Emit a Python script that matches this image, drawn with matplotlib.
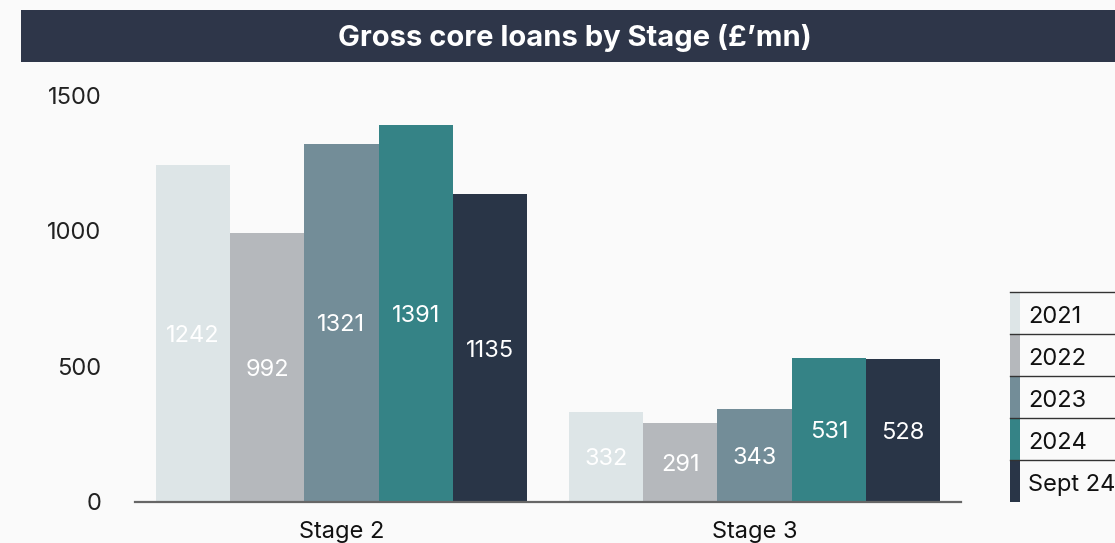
import matplotlib
matplotlib.use("Agg")
import numpy as np
import matplotlib.pyplot as plt
from matplotlib.patches import Rectangle

plt.rcParams["font.family"] = ["Inter", "DejaVu Sans"]

# ---- Data ----
stages = ["Stage 2", "Stage 3"]
periods = ["2021", "2022", "2023", "2024", "Sept 24"]
values = {
    "2021": [1242, 332],
    "2022": [992, 291],
    "2023": [1321, 343],
    "2024": [1391, 531],
    "Sept 24": [1135, 528],
}
colors = ["#DDE5E7", "#B5B8BC", "#738D98", "#358386", "#293547"]
yticks = [0, 500, 1000, 1500]

W, H = 1115, 543
BG = "#FAFAFA"
HEADER = "#2E3649"
FS = 17

fig = plt.figure(figsize=(W / 100, H / 100), dpi=100, facecolor=BG)

# header band with title
fig.patches.append(Rectangle((21 / W, 1 - 62 / H), 1 - 21 / W, 52 / H,
                             transform=fig.transFigure, facecolor=HEADER,
                             edgecolor="none", zorder=0))
fig.text(575 / W, 1 - 38 / H, "Gross core loans by Stage (£’mn)",
         color="white", fontsize=21, fontweight="bold",
         ha="center", va="center")

# ---- Bars ----
ax = fig.add_axes([135 / W, 41 / H, 826 / W, 407 / H])
ax.set_facecolor(BG)
x = np.arange(len(stages))
bw = 0.18
for i, (p, c) in enumerate(zip(periods, colors)):
    xs = x + (i - 2) * bw
    vals = values[p]
    ax.bar(xs, vals, width=bw, color=c, linewidth=0, zorder=2)
    for xi, v in zip(xs, vals):
        ax.text(xi, v / 2, str(v), color="white", fontsize=FS,
                ha="center", va="center_baseline", zorder=3)

ax.set_xlim(-0.5, 1.5)
ax.set_ylim(0, 1500)
ax.set_yticks(yticks)
ax.set_yticklabels([str(t) for t in yticks])
ax.set_xticks(x)
ax.set_xticklabels(stages)
ax.tick_params(axis="y", length=0, pad=24, labelsize=FS, labelcolor="#222222")
ax.tick_params(axis="x", length=0, pad=14, labelsize=FS, labelcolor="#111111")
for s in ["top", "right", "left"]:
    ax.spines[s].set_visible(False)
ax.spines["bottom"].set_color("#666666")
ax.spines["bottom"].set_linewidth(1.6)

# ---- Legend table ----
lg = fig.add_axes([1010 / W, 41 / H, 105 / W, 210 / H])
lg.set_xlim(0, 105)
lg.set_ylim(210, 0)
lg.axis("off")
row_h = 210 / len(periods)
for i, (p, c) in enumerate(zip(periods, colors)):
    y0 = i * row_h
    lg.add_patch(Rectangle((0, y0), 10, row_h, facecolor=c, edgecolor="none"))
    lg.plot([0, 105], [y0, y0], color="#333333", lw=1.0, clip_on=False)
    lg.text(18, y0 + row_h / 2 + 4, p, fontsize=FS, color="#111111",
            ha="left", va="center")

fig.savefig("out.png", dpi=100, facecolor=BG)
plt.close(fig)
